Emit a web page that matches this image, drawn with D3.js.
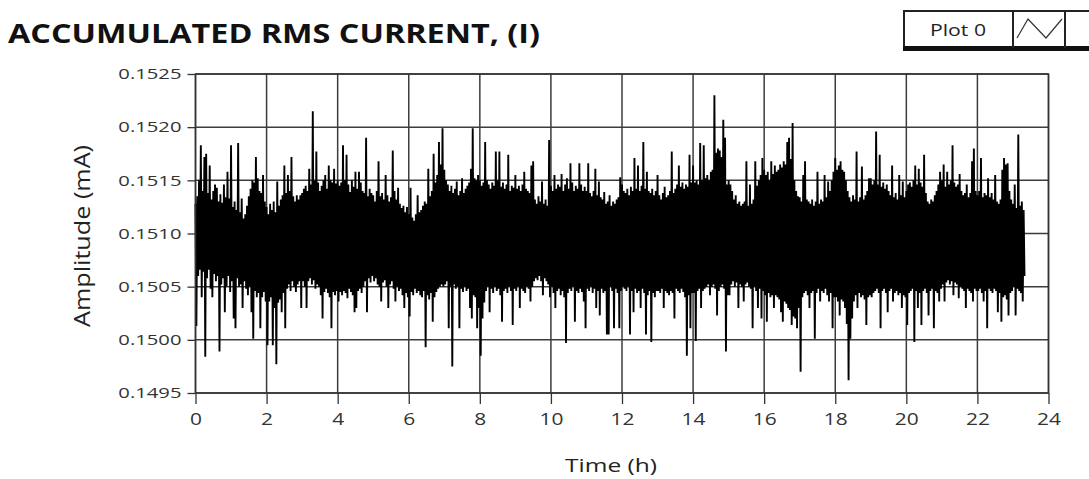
<!DOCTYPE html>
<html><head><meta charset="utf-8">
<script src="https://cdn.jsdelivr.net/npm/d3@7"></script>
<style>body{margin:0;background:#fff;}svg{display:block;font-family:"Open Sans",sans-serif;}</style>
</head><body><svg id="c" width="1089" height="479"></svg>
<script>
const titleText = "ACCUMULATED RMS CURRENT, (I)";
const xLabelText = "Time (h)";
const yLabelText = "Amplitude (mA)";
const legendLabel = "Plot 0";
const xTicks = [0,2,4,6,8,10,12,14,16,18,20,22,24];
const xTickLabels = ["0","2","4","6","8","10","12","14","16","18","20","22","24"];
const yTicks = [0.1495,0.1500,0.1505,0.1510,0.1515,0.1520,0.1525];
const yTickLabels = ["0.1495","0.1500","0.1505","0.1510","0.1515","0.1520","0.1525"];
const timeStep = 0.05; // hours between columns
// per-column maximum of the accumulated RMS current (mA), one row per hour
const ampMax = [
0.15128,0.15135,0.15150,0.15183,0.15140,0.15172,0.15175,0.15138,0.15164,0.15132,0.15140,0.15146,0.15143,0.15130,0.15137,0.15129,0.15146,0.15134,0.15158,0.15133,
0.15183,0.15125,0.15130,0.15122,0.15185,0.15120,0.15133,0.15114,0.15118,0.15126,0.15135,0.15142,0.15150,0.15148,0.15172,0.15152,0.15140,0.15138,0.15155,0.15130,
0.15125,0.15118,0.15128,0.15122,0.15130,0.15120,0.15149,0.15126,0.15132,0.15136,0.15164,0.15138,0.15155,0.15140,0.15172,0.15135,0.15130,0.15136,0.15132,0.15136,
0.15138,0.15142,0.15145,0.15140,0.15161,0.15146,0.15215,0.15150,0.15177,0.15148,0.15140,0.15145,0.15150,0.15155,0.15142,0.15164,0.15150,0.15148,0.15161,0.15147,
0.15150,0.15145,0.15148,0.15183,0.15150,0.15174,0.15146,0.15139,0.15150,0.15144,0.15158,0.15142,0.15158,0.15148,0.15140,0.15138,0.15190,0.15135,0.15142,0.15138,
0.15136,0.15130,0.15140,0.15168,0.15135,0.15138,0.15132,0.15155,0.15136,0.15130,0.15134,0.15178,0.15140,0.15132,0.15143,0.15128,0.15124,0.15126,0.15120,0.15125,
0.15118,0.15143,0.15115,0.15112,0.15118,0.15136,0.15120,0.15122,0.15126,0.15130,0.15128,0.15161,0.15135,0.15140,0.15175,0.15148,0.15155,0.15186,0.15165,0.15199,
0.15160,0.15150,0.15146,0.15140,0.15145,0.15138,0.15142,0.15149,0.15136,0.15140,0.15152,0.15138,0.15142,0.15145,0.15148,0.15161,0.15199,0.15152,0.15150,0.15155,
0.15150,0.15145,0.15148,0.15186,0.15150,0.15146,0.15142,0.15148,0.15145,0.15177,0.15150,0.15177,0.15144,0.15148,0.15142,0.15146,0.15174,0.15140,0.15145,0.15143,
0.15155,0.15142,0.15145,0.15140,0.15146,0.15158,0.15142,0.15140,0.15138,0.15164,0.15168,0.15132,0.15128,0.15135,0.15130,0.15149,0.15128,0.15132,0.15126,0.15188,
0.15145,0.15140,0.15155,0.15142,0.15146,0.15144,0.15156,0.15140,0.15146,0.15152,0.15142,0.15166,0.15148,0.15140,0.15145,0.15142,0.15166,0.15146,0.15140,0.15144,
0.15140,0.15166,0.15138,0.15135,0.15140,0.15161,0.15136,0.15149,0.15134,0.15132,0.15139,0.15128,0.15130,0.15136,0.15126,0.15130,0.15128,0.15132,0.15134,0.15153,
0.15146,0.15140,0.15138,0.15142,0.15136,0.15144,0.15140,0.15171,0.15142,0.15164,0.15140,0.15145,0.15186,0.15142,0.15158,0.15140,0.15138,0.15142,0.15136,0.15140,
0.15155,0.15136,0.15132,0.15138,0.15144,0.15134,0.15136,0.15140,0.15177,0.15138,0.15142,0.15146,0.15164,0.15144,0.15148,0.15142,0.15146,0.15144,0.15174,0.15148,
0.15164,0.15148,0.15150,0.15146,0.15185,0.15150,0.15183,0.15152,0.15155,0.15150,0.15158,0.15160,0.15230,0.15176,0.15180,0.15178,0.15172,0.15207,0.15190,0.15146,
0.15150,0.15146,0.15140,0.15132,0.15136,0.15128,0.15130,0.15126,0.15128,0.15130,0.15168,0.15126,0.15146,0.15128,0.15132,0.15168,0.15145,0.15150,0.15155,0.15171,
0.15160,0.15155,0.15158,0.15150,0.15168,0.15156,0.15164,0.15158,0.15160,0.15165,0.15162,0.15168,0.15165,0.15186,0.15190,0.15170,0.15204,0.15150,0.15140,0.15135,
0.15134,0.15130,0.15155,0.15168,0.15132,0.15130,0.15128,0.15132,0.15126,0.15130,0.15158,0.15128,0.15132,0.15130,0.15155,0.15134,0.15149,0.15140,0.15150,0.15158,
0.15171,0.15160,0.15164,0.15168,0.15160,0.15158,0.15150,0.15140,0.15134,0.15130,0.15136,0.15132,0.15177,0.15130,0.15134,0.15163,0.15132,0.15136,0.15140,0.15152,
0.15152,0.15146,0.15150,0.15196,0.15146,0.15174,0.15144,0.15148,0.15142,0.15146,0.15140,0.15136,0.15164,0.15134,0.15138,0.15132,0.15155,0.15136,0.15149,0.15134,
0.15140,0.15146,0.15148,0.15144,0.15150,0.15164,0.15146,0.15161,0.15148,0.15144,0.15174,0.15138,0.15130,0.15128,0.15132,0.15130,0.15136,0.15140,0.15146,0.15158,
0.15150,0.15165,0.15144,0.15158,0.15146,0.15150,0.15183,0.15148,0.15144,0.15146,0.15156,0.15140,0.15136,0.15138,0.15146,0.15134,0.15138,0.15168,0.15180,0.15140,
0.15136,0.15140,0.15171,0.15134,0.15138,0.15136,0.15152,0.15134,0.15138,0.15132,0.15155,0.15130,0.15128,0.15132,0.15160,0.15171,0.15165,0.15166,0.15140,0.15132,
0.15128,0.15146,0.15124,0.15193,0.15126,0.15130,0.15122
];
// per-column minimum of the accumulated RMS current (mA)
const ampMin = [
0.15013,0.15060,0.15066,0.15040,0.15064,0.14984,0.15058,0.15066,0.15048,0.15040,0.15062,0.15055,0.15060,0.14989,0.15052,0.15058,0.15026,0.15050,0.15060,0.15045,
0.15055,0.15020,0.15011,0.15058,0.15050,0.15052,0.15030,0.15055,0.15048,0.15042,0.15050,0.15026,0.15001,0.15046,0.15040,0.15044,0.15011,0.15040,0.15045,0.15036,
0.14995,0.15036,0.15040,0.14995,0.15030,0.14977,0.15035,0.15038,0.15026,0.15044,0.15011,0.15048,0.15052,0.15046,0.15055,0.15050,0.15045,0.15052,0.15055,0.15030,
0.15055,0.15050,0.15030,0.15055,0.15058,0.15052,0.15056,0.15048,0.15052,0.15050,0.15042,0.15020,0.15045,0.15048,0.15044,0.15040,0.15011,0.15045,0.15042,0.15046,
0.15036,0.15045,0.15042,0.15046,0.15044,0.15039,0.15048,0.15045,0.15042,0.15026,0.15030,0.15046,0.15048,0.15044,0.15050,0.15055,0.15026,0.15058,0.15054,0.15060,
0.15055,0.15058,0.15052,0.15050,0.15036,0.15054,0.15056,0.15050,0.15030,0.15052,0.15055,0.15048,0.15036,0.15050,0.15046,0.15048,0.15042,0.15030,0.15044,0.15040,
0.15022,0.15045,0.15042,0.15048,0.15044,0.15046,0.15042,0.15040,0.15046,0.14993,0.15042,0.15038,0.15044,0.15017,0.15040,0.15045,0.15048,0.15050,0.15052,0.15050,
0.15052,0.15055,0.15011,0.15050,0.14975,0.15052,0.15048,0.15050,0.15011,0.15048,0.15045,0.15050,0.15046,0.15048,0.15030,0.15020,0.15042,0.15040,0.15011,0.15030,
0.14985,0.15020,0.15035,0.15046,0.15050,0.15026,0.15048,0.15044,0.15050,0.15046,0.15048,0.15042,0.15017,0.15046,0.15048,0.15044,0.15050,0.15046,0.15014,0.15048,
0.15046,0.15050,0.15030,0.15048,0.15046,0.15044,0.15050,0.15048,0.15036,0.15050,0.15055,0.15058,0.15056,0.15060,0.15055,0.15042,0.15058,0.15055,0.15052,0.15040,
0.15050,0.15044,0.15030,0.15046,0.15048,0.15042,0.15046,0.15040,0.14997,0.15044,0.15048,0.15046,0.15050,0.15017,0.15046,0.15044,0.15048,0.15045,0.15036,0.15011,
0.15048,0.15046,0.15050,0.15044,0.15048,0.15030,0.15046,0.15023,0.15048,0.15044,0.15046,0.15005,0.15005,0.15050,0.15046,0.15011,0.15048,0.15044,0.15011,0.15046,
0.15050,0.15048,0.15046,0.15050,0.15005,0.15046,0.15026,0.15048,0.15044,0.15046,0.15030,0.15048,0.15044,0.15005,0.15042,0.15046,0.14998,0.15044,0.15040,0.15046,
0.15046,0.15044,0.15048,0.15030,0.15046,0.15044,0.15042,0.15046,0.15044,0.15020,0.15048,0.15046,0.15044,0.15048,0.15045,0.15040,0.14985,0.15042,0.15011,0.15044,
0.15044,0.14999,0.15046,0.15048,0.15030,0.15046,0.15048,0.15050,0.15052,0.15042,0.15050,0.15052,0.15048,0.15023,0.15046,0.15050,0.15052,0.15048,0.14989,0.15042,
0.15042,0.15052,0.15055,0.15050,0.15054,0.15030,0.15052,0.15050,0.15036,0.15052,0.15054,0.15050,0.15048,0.15011,0.15050,0.15046,0.15030,0.15048,0.15020,0.15046,
0.15042,0.15017,0.15044,0.15040,0.15042,0.15030,0.15042,0.15040,0.15038,0.15026,0.15017,0.15036,0.15034,0.15030,0.15028,0.15014,0.15022,0.15020,0.15011,0.15030,
0.14970,0.15040,0.15044,0.15046,0.15042,0.15030,0.15044,0.15046,0.15001,0.15044,0.15048,0.15036,0.15046,0.15044,0.15048,0.15042,0.15036,0.15044,0.15011,0.15040,
0.15040,0.15036,0.15023,0.15038,0.15036,0.15030,0.15015,0.14962,0.15001,0.15020,0.15036,0.15042,0.15030,0.15044,0.15040,0.15042,0.15038,0.15014,0.15040,0.15042,
0.15040,0.15044,0.15046,0.15048,0.15044,0.15011,0.15046,0.15048,0.15044,0.15026,0.15046,0.15048,0.15036,0.15044,0.15046,0.15042,0.15044,0.15030,0.15042,0.15040,
0.15014,0.15044,0.15046,0.15048,0.14998,0.15046,0.15030,0.15044,0.15014,0.15046,0.15048,0.15044,0.15023,0.15046,0.15048,0.15011,0.15046,0.15044,0.15036,0.15048,
0.15052,0.15036,0.15054,0.15056,0.15052,0.15055,0.15042,0.15054,0.15052,0.15039,0.15050,0.15048,0.15046,0.15030,0.15048,0.15046,0.15044,0.15036,0.15048,0.15046,
0.15046,0.15048,0.15044,0.15036,0.15046,0.15011,0.15048,0.15046,0.15044,0.15048,0.15046,0.15026,0.15044,0.15017,0.15040,0.15042,0.15038,0.15023,0.15044,0.15046,
0.15050,0.15023,0.15048,0.15046,0.15044,0.15036,0.15060
];

const SX = 1.35; // horizontal glyph stretch seen in the reference
const svg = d3.select("#c");
const x = d3.scaleLinear().domain([0,24]).range([195.5,1048.5]);
const y = d3.scaleLinear().domain([0.1495,0.1525]).range([393,74]);

function stretch(sel, target){
  sel.each(function(){
    const w = this.getComputedTextLength();
    d3.select(this).attr("textLength", target || w*SX).attr("lengthAdjust","spacingAndGlyphs");
  });
}

// title
svg.append("text").attr("x",8).attr("y",43).attr("font-size",26).attr("font-weight",700)
  .attr("fill","#111").text(titleText).call(s=>stretch(s,532));

// legend
const lg = svg.append("g");
lg.append("rect").attr("x",904).attr("y",11).attr("width",200).attr("height",38).attr("fill","#fff").attr("stroke","#222").attr("stroke-width",2);
lg.append("rect").attr("x",903).attr("y",46).attr("width",200).attr("height",5).attr("fill","#111");
lg.append("line").attr("x1",1013).attr("x2",1013).attr("y1",11).attr("y2",48).attr("stroke","#222").attr("stroke-width",2);
lg.append("line").attr("x1",1065).attr("x2",1065).attr("y1",11).attr("y2",48).attr("stroke","#222").attr("stroke-width",2);
lg.append("path").attr("d","M1017,38L1028,19L1046,38L1062,19").attr("fill","none").attr("stroke","#333").attr("stroke-width",1.2);
lg.append("text").attr("x",958).attr("y",36).attr("text-anchor","middle").attr("font-size",17).attr("fill","#222").text(legendLabel).call(s=>stretch(s,56));

// grid
const grid = svg.append("g").attr("stroke","#3c3c3c").attr("stroke-width",1.5);
grid.selectAll(".gy").data(yTicks).join("line").attr("x1",x(0)).attr("x2",x(24)).attr("y1",d=>y(d)).attr("y2",d=>y(d));
grid.selectAll(".gx").data(xTicks).join("line").attr("y1",y(0.1495)).attr("y2",y(0.1525)).attr("x1",d=>x(d)).attr("x2",d=>x(d));

// data
const pts = [];
ampMax.forEach((v,i)=>{ const t=i*timeStep; pts.push([t,v]); if(i<ampMin.length) pts.push([t+timeStep/2, ampMin[i]]); });
svg.append("path").datum(pts).attr("fill","none").attr("stroke","#000").attr("stroke-width",1.9)
  .attr("stroke-linejoin","miter").attr("stroke-miterlimit",1)
  .attr("d", d3.line().x(d=>x(d[0])).y(d=>y(d[1])));

// frame
svg.append("rect").attr("x",x(0)).attr("y",y(0.1525)).attr("width",x(24)-x(0)).attr("height",y(0.1495)-y(0.1525))
  .attr("fill","none").attr("stroke","#333").attr("stroke-width",1.5);

// axes
const ya = svg.append("g").attr("transform",`translate(${x(0)},0)`)
  .call(d3.axisLeft(y).tickValues(yTicks).tickFormat((d,i)=>yTickLabels[i]).tickSize(8).tickPadding(6));
ya.select(".domain").remove();
ya.selectAll("line").attr("stroke","#333").attr("stroke-width",1.3);
ya.selectAll("text").attr("font-family","Open Sans").attr("font-size",15).attr("fill","#333").call(s=>stretch(s));

const xa = svg.append("g").attr("transform",`translate(0,${y(0.1495)})`)
  .call(d3.axisBottom(x).tickValues(xTicks).tickFormat((d,i)=>xTickLabels[i]).tickSize(11).tickPadding(10));
xa.select(".domain").remove();
xa.selectAll("line").attr("stroke","#333").attr("stroke-width",1.3);
xa.selectAll("text").attr("font-family","Open Sans").attr("font-size",15.5).attr("fill","#333").call(s=>stretch(s));

// axis titles
svg.append("text").attr("x",611).attr("y",472).attr("text-anchor","middle").attr("font-size",18).attr("fill","#222")
  .text(xLabelText).call(s=>stretch(s,92));
const yl = svg.append("g").attr("transform","translate(90,236) scale(1.25,1) rotate(-90)");
yl.append("text").attr("x",0).attr("y",0).attr("text-anchor","middle").attr("font-size",18).attr("fill","#222")
  .text(yLabelText).call(s=>stretch(s,182));
</script></body></html>
